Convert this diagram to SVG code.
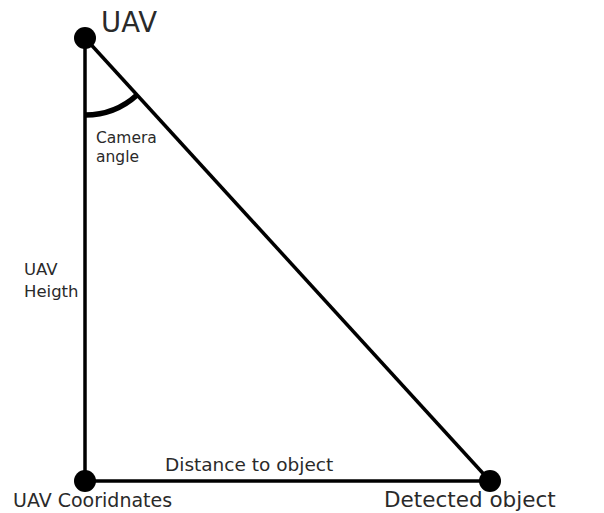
<svg xmlns="http://www.w3.org/2000/svg" width="604" height="513" viewBox="0 0 604 513">
<style>
.ln{stroke:#000;stroke-width:3.5;fill:none}
.dot{fill:#000}
text{font-family:"DejaVu Sans",sans-serif;fill:#2a2a2a}
</style>
<rect width="604" height="513" fill="#fff"/>
<g id="connectors">
<line class="ln" x1="85" y1="38" x2="85" y2="481"/>
<line class="ln" x1="85" y1="481" x2="490" y2="481"/>
<line class="ln" x1="85" y1="38" x2="490" y2="481"/>
<path d="M85 115 A77 77 0 0 0 137 95" stroke="#000" stroke-width="5.5" fill="none"/>
</g>
<g id="uav"><circle class="dot" cx="85" cy="38" r="11"/><text x="101" y="32" font-size="27.5">UAV</text></g>
<g id="uav-coords"><circle class="dot" cx="85" cy="481" r="11"/><text x="13" y="507" font-size="19">UAV Cooridnates</text></g>
<g id="detected"><circle class="dot" cx="490" cy="481" r="11"/><text x="384" y="507" font-size="21.5">Detected object</text></g>
<g id="labels">
<text x="96" y="143" font-size="15.5">Camera</text>
<text x="96" y="162" font-size="15.5">angle</text>
<text x="24" y="275" font-size="16.5">UAV</text>
<text x="24" y="297" font-size="16.5">Heigth</text>
<text x="165" y="471" font-size="18.5">Distance to object</text>
</g>
</svg>
